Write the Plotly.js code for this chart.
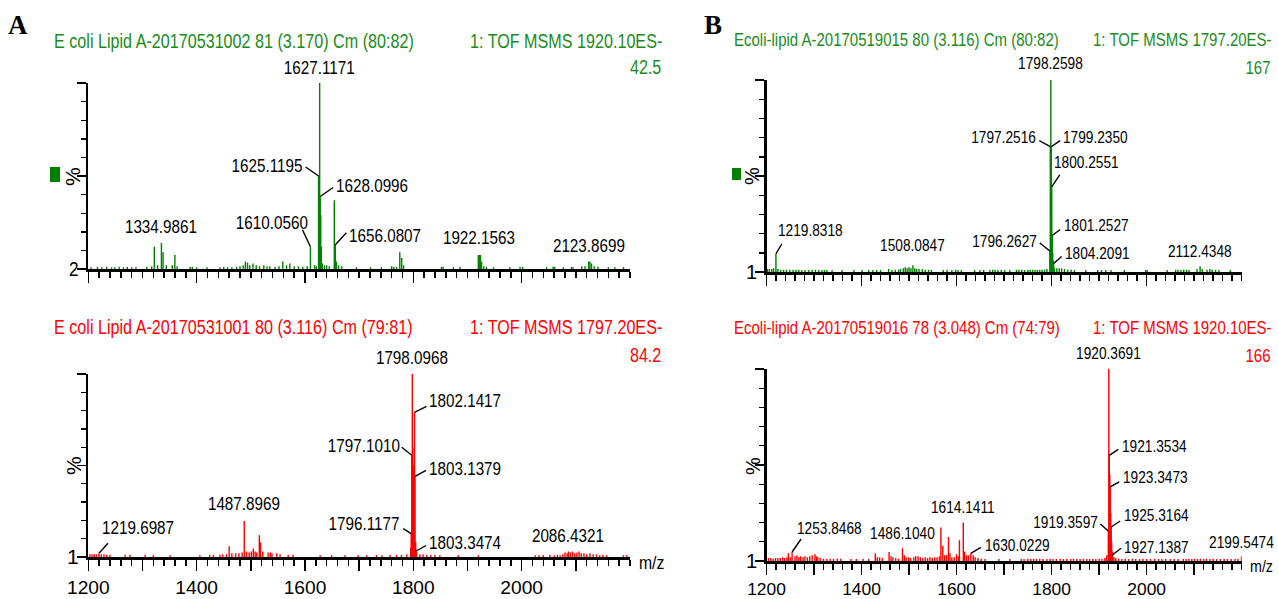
<!DOCTYPE html>
<html><head><meta charset="utf-8">
<script src="https://cdn.plot.ly/plotly-3.0.1.min.js"></script>
<style>html,body{margin:0;padding:0;background:#fff}#chart{width:1278px;height:599px}</style>
</head><body><div id="chart"></div>
<script>
// ---------- DATA (m/z, relative intensity %) ----------
const aTopMz  = [1205,1217,1225,1234,1243,1249,1257,1265,1272,1280,1288,1308,1317,1321.9,1328,1334.9861,1338,1344,1355,1359.8,1364,1388,1392,1400,1419,1443,1450,1457,1465,1474,1480,1486,1490,1494,1498,1504,1510,1516,1524,1530,1535,1545,1552,1559,1566,1572,1580,1588,1596,1604,1610.056,1618,1621,1625.1195,1627.1171,1628.0996,1629.1,1630.1,1632,1636,1640,1645,1654.1,1656.0807,1658,1662,1668,1695,1721,1741,1760,1764,1769,1775,1778.5,1782,1852,1855,1874,1886,1920,1922.1563,1924,1926,1930,1935,1948,1978,1997,2002,2046,2058,2061,2077,2092,2095,2111,2117,2123.8699,2126,2129,2134,2141,2160,2172,2188];
const aTopPct = [1.0,1.2,1.0,1.2,1.0,1.0,1.2,1.0,1.2,1.0,1.0,1.2,1.5,12,2,14,9,2,2,7.5,1.5,1.2,1.2,1.0,1.0,1.0,1.2,1.0,1.0,1.2,1.5,2,4,3.5,2,3,2,1.5,2,1.5,1.5,1.2,1.5,4,2,3,1.5,1.5,1.2,1.5,12,2,1.5,50,100,39,29,12,3,2,2,1.5,37,13,4,2,1.5,1.0,1.0,1.0,1.5,1.2,1.2,9,6,2,1.2,1.2,1.0,1.2,7.5,7.5,7.5,4,1.5,1.2,1.0,1.0,1.2,1.2,1.0,1.2,1.2,1.0,1.2,1.0,1.5,1.5,4,4,3,1.5,1.2,1.0,1.0,1.0];
const aTopLabels = [1627.1171,1625.1195,1628.0996,1610.0560,1656.0807,1334.9861,1922.1563,2123.8699];

const aBotMz  = [1203,1207,1211,1215,1219.6987,1224,1229,1234,1240,1268,1277,1305,1320,1351,1406,1424,1431,1443,1448,1455,1460,1465,1472,1478,1484,1487.8969,1492,1497,1501,1504.6,1508,1511,1515.7,1518,1522,1532,1536,1539,1548,1554,1569,1578,1628,1649,1674,1698,1714,1732,1742,1757,1769,1778,1788,1795.1,1796.1177,1797.1010,1798.0968,1799.1,1800.1,1801.1,1802.1417,1803.1379,1803.3474,1804.4,1806,1812,1818,1825,1832,1840,1849,1883,1920,2025,2032,2040,2052,2060,2066,2071,2076,2080,2084,2086.4321,2090,2094,2098,2102,2106,2110,2115,2120,2126,2132,2138,2144,2150,2157,2188,2194];
const aBotPct = [1.5,1.5,1.5,1.5,2,1.5,1.5,1.2,1.2,1.2,1.2,1.2,1.0,1.0,1.0,1.2,1.2,1.2,1.5,1.5,5.9,2,2,2,2.5,19.7,3,2.5,3,4.7,3,2.5,11.9,8,3,2.5,2.5,2,2,1.5,1.2,1.2,1.0,1.0,1.0,1.0,1.0,1.2,1.0,1.2,1.2,1.2,1.5,5,12.8,55.6,100,60,50,46,79,44,3,8,3,1.5,1.5,1.2,1.2,1.2,1.0,1.0,1.0,1.0,1.0,1.0,1.2,1.0,1.2,1.0,1.5,2.5,2,3,2.5,3,2,2.5,3,2,2,1.5,2,1.5,1.5,1.0,1.2,1.0,1.0,1.0];
const aBotLabels = [1798.0968,1802.1417,1797.1010,1803.1379,1796.1177,1803.3474,1487.8969,1219.6987,2086.4321];

const bTopMz  = [1202,1206,1211,1215,1219.8318,1224,1230,1236,1242,1249,1256,1262,1268,1274,1281,1289,1296,1303,1310,1317,1322,1327,1338,1359,1384,1401,1415,1424,1432,1440,1457,1464,1471,1478,1482,1488,1492,1496,1500,1504,1508.0847,1512,1516,1521,1528,1534,1541,1547,1572,1580,1590,1598,1603,1610,1638,1649,1657,1670,1676,1681,1687,1694,1701,1712,1726,1731,1737,1743,1750,1755,1760,1765,1770,1775,1780,1785,1790,1796.2627,1797.2516,1798.2598,1799.2350,1800.2551,1801.2527,1802.3,1803.2,1804.2091,1806,1811,1816,1821,1827,1834,1841,1848,1872,1897,1905,1914,1925,1953,1998,2001,2043,2061,2066,2072,2078,2084,2089,2106,2112.4348,2117,2127,2133,2138,2145,2152,2176];
const bTopPct = [1.5,1.5,1.5,2,9.5,1.5,1.2,1.2,1.2,1.2,1.2,1.2,1.2,1.0,1.0,1.0,1.2,1.2,1.0,1.0,1.0,1.0,1.0,1.0,1.0,1.0,1.0,1.0,1.0,1.0,1.5,1.0,1.2,1.2,1.5,2,2.5,2,2.5,2,3.5,2,1.5,1.5,1.5,1.2,1.2,1.0,1.0,1.2,1.0,1.2,1.0,1.0,1.0,1.0,1.0,1.0,1.2,1.2,1.0,1.2,1.0,1.0,1.2,1.2,1.2,1.0,1.2,1.2,1.2,1.2,1.2,1.2,1.2,1.2,1.5,10.9,65.3,100,65.3,44.3,19,10,6,4.4,2,2,2,2,1.5,1.2,1.2,1.0,1.0,1.0,1.0,1.0,1.0,1.0,1.0,1.0,1.0,1.2,1.2,1.0,1.2,1.2,1.0,1.5,3,1.5,1.2,1.5,1.2,1.2,1.0,1.0];
const bTopLabels = [1798.2598,1797.2516,1799.2350,1800.2551,1801.2527,1796.2627,1804.2091,1219.8318,1508.0847,2112.4348];

const bBotMz  = [1204,1209,1214,1219,1224,1229,1234,1238,1243,1246,1250,1253.8468,1260,1264,1268,1272,1277,1281,1286,1291,1296,1302,1305,1308,1313,1320,1327,1334,1341,1349,1356,1378,1389,1403,1415,1429,1433,1438,1444,1458,1462,1466,1472,1478,1486.1040,1490,1494,1499,1503,1510,1514,1519,1524,1529,1534,1539,1544,1549,1554,1559,1564,1567,1571,1575,1579,1583,1586,1590,1595,1600,1604,1606,1614.1411,1617,1621,1625,1630.0229,1635,1639,1645,1652,1660,1689,1712,1736,1742,1750,1756,1762,1768,1775,1782,1790,1797,1803,1810,1818,1825,1832,1840,1846,1853,1860,1867,1874,1880,1887,1893,1900,1906,1912,1916,1919.3597,1920.3691,1921.3534,1922.35,1923.3473,1924.3,1925.3164,1926.3,1927.1387,1928.3,1931,1935,1941,1948,1955,1962,1970,1977,1985,1992,2000,2008,2017,2025,2032,2040,2050,2058,2066,2077,2083,2089,2095,2101,2107,2113,2120,2126,2133,2140,2147,2155,2163,2170,2178,2186,2192,2199.5474];
const bBotPct = [1.5,1.5,1.2,1.5,1.5,1.5,2,1.5,2,4,2,4.7,2.5,3,2,2.5,2,2.5,2,2.5,3,3.5,2.5,2,1.5,1.2,1.2,1.2,1.2,1.2,1.2,1.0,1.0,1.2,1.0,4,2,2,1.5,4.7,2.5,2,1.5,1.2,6.6,3,2,2,1.5,2,2.5,2.5,2,1.5,2,1.5,2,1.5,2,2,2.5,17.5,8,3,3,12.5,4,2,2,3.5,2.5,10.8,20,5,3,3,4,3,2,1.5,1.2,1.0,1.0,1.0,1.0,1.0,1.2,1.0,1.2,1.0,1.2,1.0,1.0,1.2,1.0,1.0,1.2,1.0,1.2,1.0,1.2,1.0,1.0,1.2,1.0,1.0,1.2,1.0,1.2,1.0,1.5,3,15.6,100,55,45,38.6,25,17.7,10,3,5,2,1.5,1.2,1.0,1.2,1.0,1.2,1.0,1.0,1.2,1.0,1.0,1.2,1.0,1.0,1.2,1.0,1.0,1.0,1.2,1.0,1.2,1.0,1.2,1.0,1.2,1.0,1.2,1.0,1.2,1.0,1.0,1.2,1.0,1.0,1.0,1.0,2.5];
const bBotLabels = [1920.3691,1921.3534,1923.3473,1925.3164,1919.3597,1927.1387,2199.5474,1253.8468,1486.1040,1614.1411,1630.0229];

const headers = {
  aTop: ['E coli Lipid A-20170531002 81 (3.170) Cm (80:82)', '1: TOF MSMS 1920.10ES-', '42.5'],
  aBot: ['E coli Lipid A-20170531001 80 (3.116) Cm (79:81)', '1: TOF MSMS 1797.20ES-', '84.2'],
  bTop: ['Ecoli-lipid A-20170519015 80 (3.116) Cm (80:82)', '1: TOF MSMS 1797.20ES-', '167'],
  bBot: ['Ecoli-lipid A-20170519016 78 (3.048) Cm (74:79)', '1: TOF MSMS 1920.10ES-', '166']
};
const baseLabels = {aTop:'2', aBot:'1', bTop:'1', bBot:'1'};
const xTickVals = [1200,1300,1400,1500,1600,1700,1800,1900,2000,2100];
const xTickText = ['1200','','1400','','1600','','1800','','2000',''];

// ---------- LAYOUT / STYLE ----------
const W = 1278, H = 599;
const SANS = '"Liberation Sans",Arial,sans-serif';
const NARROW_X = 0.82;   // horizontal condensing applied to the sans texts
const GREEN_BAR = '#008000', GREEN_TXT = '#1a8c1a', RED = '#ff0000';

// label placement: [anchor, textDx, textDy, leaderDx, leaderDy] in screen px (y down)
const labelPos = {
  aTop: [['c',0,-3],['r',-14,-11,-13,-9],['l',14,-11,13,-9],['r',0,-24,-8,-17],['l',12,-9,11,-12],['c',0,-4],['c',0,-5],['c',0,-4]],
  aBot: [['c',0,-4],['l',13,-12,12,-6],['r',-10,-10,-10,-8],['l',12,-8,11,-6],['r',-9,-10,-8,-5],['l',12,-9,11,-6],['c',0,-5],['l',1,-26,9,-10],['c',0,-4]],
  bTop: [['c',0,-5],['r',-12,-9,-11,-6],['l',10,-9,9,-6],['l',0,-24,8,-12],['l',10,-10,8,-6],['r',-11,-10,-10,-8],['l',9,-10,8,-7],['l',0,-23,6,-10],['c',0,-8],['c',0,-3]],
  bBot: [['c',0,-4],['l',11,-9,9,-6],['l',11,-9,9,-5],['l',11,-12,9,-6],['r',-8,-9,-8,-7],['l',10,-8,9,-7],['c',0,-2],['l',3,-23,9,-13],['c',0,-3],['c',0,-4],['l',12,-8,10,-6]]
};

const panels = [
  {key:'aTop', n:'', mz:aTopMz, pct:aTopPct, labels:aTopLabels, bar:GREEN_BAR, txt:GREEN_TXT,
   x:[88.3,630], y:[83,269], range:[1200,2200], bw:2.6, fs:18.6, tfs:19.7, tickFs:19.2, baseFs:21, pctFs:21,
   head:{tx:52, ty:41, rx:468, num:663, ny:67}, pct_:{x:73,y:177}, sq:[50,167,60,182], bottom:false},
  {key:'aBot', n:'2', mz:aBotMz, pct:aBotPct, labels:aBotLabels, bar:RED, txt:RED,
   x:[88.3,630], y:[374,557], range:[1200,2200], bw:2.6, fs:18.6, tfs:19.7, tickFs:19.2, baseFs:21, pctFs:21,
   head:{tx:52, ty:327, rx:468, num:663, ny:355}, pct_:{x:73,y:466}, sq:null, bottom:true, mzLab:{x:637,y:562}},
  {key:'bTop', n:'3', mz:bTopMz, pct:bTopPct, labels:bTopLabels, bar:GREEN_BAR, txt:GREEN_TXT,
   x:[766.5,1241.7], y:[80,272], range:[1200,2200], bw:3, fs:16.7, tfs:18.3, tickFs:17.4, baseFs:20, pctFs:20,
   head:{tx:732, ty:40, rx:1091, num:1273, ny:67}, pct_:{x:752,y:176}, sq:[732,168,741,180], bottom:false},
  {key:'bBot', n:'4', mz:bBotMz, pct:bBotPct, labels:bBotLabels, bar:RED, txt:RED,
   x:[766.5,1241.7], y:[369,561], range:[1200,2200], bw:3, fs:16.7, tfs:18.3, tickFs:17.4, baseFs:20, pctFs:20,
   head:{tx:732, ty:327, rx:1091, num:1273, ny:355}, pct_:{x:753,y:466}, sq:null, bottom:true, mzLab:{x:1248,y:566}}
];

const px = v => v / W, py = v => 1 - v / H;
const traces = [], annotations = [], shapes = [];
const layout = {
  width: W, height: H, margin: {l:0, r:0, t:0, b:0},
  paper_bgcolor: '#fff', plot_bgcolor: '#fff', showlegend: false,
  font: {family: SANS, color: '#000'}
};

panels.forEach(p => {
  const xa = 'x' + p.n, ya = 'y' + p.n;
  traces.push({type:'bar', x:p.mz, y:p.pct, xaxis:xa, yaxis:ya, width:p.bw,
    marker:{color:p.bar, line:{width:0}}, hoverinfo:'skip'});
  layout['xaxis' + p.n] = {
    domain:[px(p.x[0]), px(p.x[1])], range:p.range, anchor:ya,
    showgrid:false, zeroline:false, showline:true, linecolor:'#000', linewidth:2.5,
    ticks:'outside', tickvals:xTickVals, ticktext:xTickText, ticklen:11, tickwidth:1.6, tickcolor:'#000',
    showticklabels:p.bottom, tickfont:{family:SANS, size:p.tickFs, color:'#000'}, ticklabelstandoff:0,
    minor:{tick0:1200, dtick:20, ticks:'outside', ticklen:6, tickwidth:1.4, tickcolor:'#000', showgrid:false},
    fixedrange:true
  };
  layout['yaxis' + p.n] = {
    domain:[py(p.y[1]), py(p.y[0])], range:[0,100], anchor:xa,
    showgrid:false, zeroline:false, showline:true, linecolor:'#000', linewidth:2.5,
    ticks:'outside', tickvals:[0,50,100], ticktext:[baseLabels[p.key],'',''], ticklen:9, tickwidth:1.6, tickcolor:'#000',
    tickfont:{family:SANS, size:p.baseFs, color:'#000'}, ticklabelstandoff:-6,
    minor:{tick0:0, dtick:10, ticks:'outside', ticklen:5, tickwidth:1.4, tickcolor:'#000', showgrid:false},
    fixedrange:true
  };
  const h = headers[p.key];
  const hf = {family:SANS, size:p.tfs, color:p.txt};
  annotations.push({xref:'paper', yref:'paper', x:px(p.head.tx), y:py(p.head.ty), xanchor:'left', align:'left', yanchor:'middle',
    text:h[0], showarrow:false, font:hf});
  annotations.push({xref:'paper', yref:'paper', x:px(p.head.rx), y:py(p.head.ty), xanchor:'left', align:'left', yanchor:'middle',
    text:h[1], showarrow:false, font:hf});
  annotations.push({xref:'paper', yref:'paper', x:px(p.head.num), y:py(p.head.ny), xanchor:'right', align:'right', yanchor:'middle',
    text:h[2], showarrow:false, font:hf});
  annotations.push({xref:'paper', yref:'paper', x:px(p.pct_.x), y:py(p.pct_.y), xanchor:'center', yanchor:'middle',
    text:'%', textangle:-90, showarrow:false, font:{family:SANS, size:p.pctFs, color:'#000'}});
  if (p.mzLab) annotations.push({xref:'paper', yref:'paper', x:px(p.mzLab.x), y:py(p.mzLab.y), xanchor:'left', align:'left', yanchor:'middle',
    text:'m/z', showarrow:false, font:{family:SANS, size:p.tickFs, color:'#000'}});
  if (p.sq) shapes.push({type:'rect', xref:'paper', yref:'paper', x0:px(p.sq[0]), x1:px(p.sq[2]), y0:py(p.sq[3]), y1:py(p.sq[1]),
    fillcolor:GREEN_BAR, line:{width:0}});
  p.labels.forEach((m, i) => {
    const idx = p.mz.findIndex(v => Math.abs(v - m) < 1e-6);
    const yv = p.pct[idx];
    const s = labelPos[p.key][i];
    const anc = s[0] === 'c' ? 'center' : (s[0] === 'r' ? 'right' : 'left');
    annotations.push({xref:xa, yref:ya, x:m, y:yv, text:m.toFixed(4), showarrow:false,
      xanchor:anc, align:anc, yanchor: s[0] === 'c' ? 'bottom' : 'middle', xshift:s[1], yshift:-s[2],
      font:{family:SANS, size:p.fs, color:'#000'}});
    if (s.length > 3) shapes.push({type:'line', xref:xa, yref:ya, xsizemode:'pixel', ysizemode:'pixel',
      xanchor:m, yanchor:yv, x0:0, y0:0, x1:s[3], y1:-s[4], line:{color:'#000', width:1.4}});
  });
});

const SERIF = '"Liberation Serif","Times New Roman",serif';
annotations.push({xref:'paper', yref:'paper', x:px(18), y:py(25), xanchor:'center', yanchor:'middle', text:'<b>A</b>',
  showarrow:false, font:{family:SERIF, size:27, color:'#000'}});
annotations.push({xref:'paper', yref:'paper', x:px(713), y:py(25), xanchor:'center', yanchor:'middle', text:'<b>B</b>',
  showarrow:false, font:{family:SERIF, size:27, color:'#000'}});

layout.annotations = annotations;
layout.shapes = shapes;

// condense sans-serif texts horizontally (around their anchor) to mimic the narrow font of the original
function condense(gd) {
  const skip = new Set(['A', 'B', '%']);
  gd.querySelectorAll('text.annotation-text, .xtick text, .ytick text').forEach(t => {
    if (skip.has(t.textContent.trim())) return;
    const x = parseFloat(t.getAttribute('x') || '0');
    const prev = t.getAttribute('transform') || '';
    t.setAttribute('transform', (prev + ' translate(' + x + ',0) scale(' + NARROW_X + ',1) translate(' + (-x) + ',0)').trim());
  });
}
const gd = document.getElementById('chart');
Plotly.newPlot(gd, traces, layout, {staticPlot:true, displayModeBar:false}).then(() => condense(gd));
</script></body></html>
